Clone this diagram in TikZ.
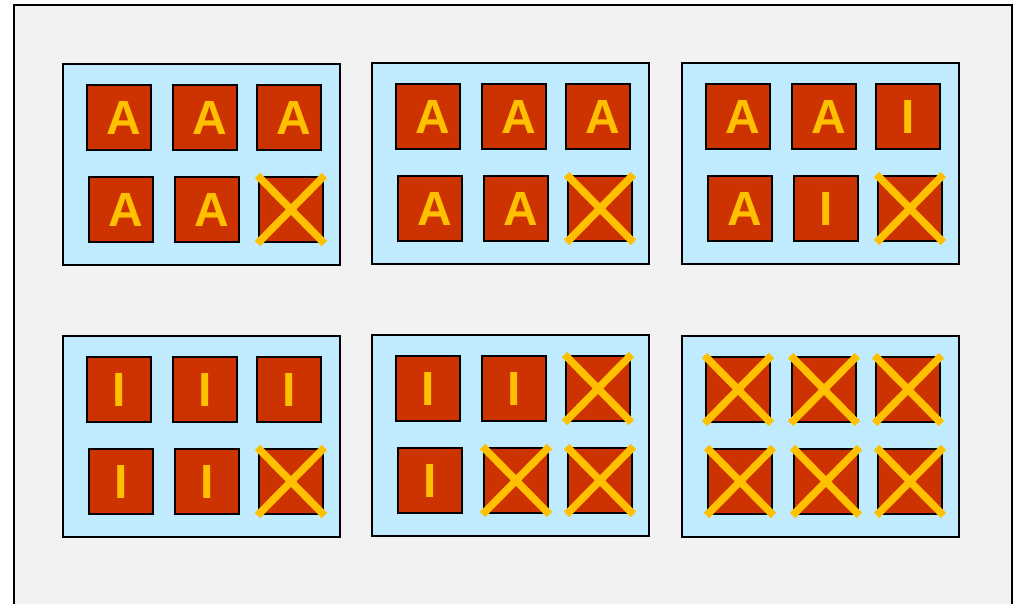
\documentclass[tikz,border=0pt]{standalone}
\usepackage{fontspec}
\setmainfont{Liberation Sans}
\definecolor{bgc}{HTML}{F2F2F2}
\definecolor{panelc}{HTML}{C0EBFE}
\definecolor{sqc}{HTML}{CC3300}
\definecolor{yel}{HTML}{FFC000}
\begin{document}
\begin{tikzpicture}[x=1pt,y=-1pt,
  panelbox/.style={draw=black,line width=1.8pt,fill=panelc,minimum width=277pt,minimum height=201pt,inner sep=0pt,outer sep=0pt,anchor=north west},
  sq/.style={draw=black,line width=1.6pt,fill=sqc,minimum width=64pt,minimum height=65pt,inner sep=0pt,outer sep=0pt},
  ltr/.style={text=yel,font=\bfseries\fontsize{48}{48}\selectfont,inner sep=0pt},
  xline/.style={draw=yel,line width=7.5pt,shorten <=-2pt,shorten >=-2pt}]
\useasboundingbox (0,0) rectangle (1015,604);
\fill[white] (0,0) rectangle (1015,604);
\begin{scope}
\clip (0,0) rectangle (1015,604);
\draw[line width=2pt,fill=bgc] (14,5) rectangle (1012,640);
\end{scope}
\foreach \pn/\px/\py/\cs/\sxl/\syl in {
  p1/63/64/{A,A,A,A,A,X}/{0,0,0,0,0,0}/{0,0,0,0,0,0},
  p2/372/63/{A,A,A,A,A,X}/{0,0,0,0,0,0}/{0,0,0,0,0,0},
  p3/682/63/{A,A,I,A,I,X}/{0,0,0,0,0,0}/{0,0,0,0,0,0},
  p4/63/336/{I,I,I,I,I,X}/{0,0,0,0,0,0}/{0,0,0,0,0,0},
  p5/372/335/{I,I,X,I,X,X}/{0,0,0,0,0,0}/{0,0,0,0,0,0},
  p6/682/336/{X,X,X,X,X,X}/{4.5,0,1.5,5,1.5,-1}/{2,-2,2,1,-1.5,-1}}{
  \node[panelbox] (\pn) at (\px,\py) {};
  \foreach \c [count=\k] in \cs {
    \pgfmathsetmacro\dx{{56,142,226,58,144,228}[\k-1]}
    \pgfmathsetmacro\dy{{53.5,53.5,53.5,145.5,145.5,145.5}[\k-1]}
    \node[sq] (\pn-\k) at (\px+\dx,\py+\dy) {};
    \if\c X
      \pgfmathsetmacro\cx{{\sxl}[\k-1]}
      \pgfmathsetmacro\cy{{\syl}[\k-1]}
      \begin{scope}[shift={(\cx,\cy)}]
      \draw[xline] (\pn-\k.north west) -- (\pn-\k.south east);
      \draw[xline] (\pn-\k.south west) -- (\pn-\k.north east);
      \end{scope}
    \else
      \if\c A\def\tsh{5}\else\def\tsh{0}\fi
      \node[ltr] (\pn-\k-t) at ([xshift=\tsh pt]\pn-\k.center) {\c};
    \fi
  }
}
\end{tikzpicture}
\end{document}
